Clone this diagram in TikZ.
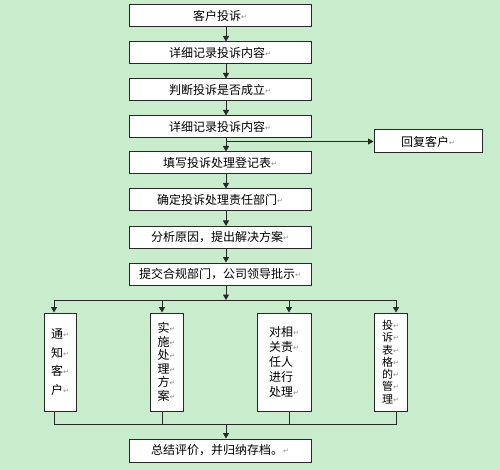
\documentclass[tikz,border=0pt]{standalone}
\usepackage{fontspec}
\usetikzlibrary{arrows.meta}
\newfontfamily\cjk{Noto Sans CJK SC}
\newfontfamily\symf{DejaVu Sans}
\newcommand\retm{\raisebox{1pt}{\symf\fontsize{7}{7}\selectfont\textcolor{black!45}{↵}}}
\definecolor{bgc}{RGB}{200,236,204}
\definecolor{lnc}{RGB}{40,40,40}
\begin{document}
\begin{tikzpicture}[x=1pt,y=-1pt,
  box/.style={draw=lnc, line width=1pt, fill=white, inner sep=0pt, font=\cjk\fontsize{12}{14}\selectfont},
  hbox/.style={box, minimum width=182pt, minimum height=22pt},
  arr/.style={-{Triangle[length=5.5pt,width=6pt]}, line width=0.8pt, draw=lnc},
  ln/.style={line width=0.8pt, draw=lnc}]
\useasboundingbox (0,0) rectangle (500,470);
\fill[bgc] (0,0) rectangle (500,470);
% main column
\node[hbox] (b1) at (220,16) {客户投诉\retm};
\node[hbox] (b2) at (220,53) {详细记录投诉内容\retm};
\node[hbox] (b3) at (220,90) {判断投诉是否成立\retm};
\node[hbox] (b4) at (220,127) {详细记录投诉内容\retm};
\node[hbox] (b5) at (220,163) {填写投诉处理登记表\retm};
\node[hbox] (b6) at (220,200) {确定投诉处理责任部门\retm};
\node[hbox] (b7) at (220,237.5) {分析原因，提出解决方案\retm};
\node[hbox] (b8) at (220,274) {提交合规部门，公司领导批示\retm};
\node[box, minimum width=108pt, minimum height=23pt] (r) at (428,141.5) {回复客户\retm};
\node[hbox, minimum height=23pt] (b9) at (220,450.5) {总结评价，并归纳存档。\retm};
% vertical boxes
\node[box, minimum width=32pt, minimum height=98pt, align=center, font=\cjk\fontsize{12}{18.5}\selectfont] (va) at (60,362) {通\retm\\知\retm\\客\retm\\户\retm};
\node[box, minimum width=33pt, minimum height=98pt, align=center, font=\cjk\fontsize{12}{13.5}\selectfont] (vb) at (166.5,362) {实\retm\\施\retm\\处\retm\\理\retm\\方\retm\\案\retm};
\node[box, minimum width=54pt, minimum height=98pt, align=left, font=\cjk\fontsize{12}{15}\selectfont] (vc) at (284,362) {对相\retm\\关责\retm\\任人\\进行\\处理\retm};
\node[box, minimum width=33pt, minimum height=98pt, align=center, font=\cjk\fontsize{11}{12.3}\selectfont] (vd) at (390.5,362) {投\retm\\诉\retm\\表\retm\\格\retm\\的\retm\\管\retm\\理\retm};
% connectors
\coordinate (sp) at (226,0);
\draw[arr] (b1.south -| sp) -- (b2.north -| sp);
\draw[arr] (b2.south -| sp) -- (b3.north -| sp);
\draw[arr] (b3.south -| sp) -- (b4.north -| sp);
\draw[arr] (b4.south -| sp) -- (b5.north -| sp);
\draw[arr] (b5.south -| sp) -- (b6.north -| sp);
\draw[arr] (b6.south -| sp) -- (b7.north -| sp);
\draw[arr] (b7.south -| sp) -- (b8.north -| sp);
\draw[arr] (sp |- r.west) -- (r.west);
\coordinate (bt) at (226,300);
\coordinate (tl) at (54,300);
\coordinate (tr) at (396,300);
\coordinate (xa) at (54,0);
\coordinate (xb) at (162,0);
\coordinate (xc) at (289,0);
\coordinate (xd) at (396,0);
\draw[ln] (tl) -- (tr);
\draw[arr] (b8.south -| sp) -- (bt);
\draw[arr] (tl) -- (va.north -| xa);
\draw[arr] (bt -| xb) -- (vb.north -| xb);
\draw[arr] (bt -| xc) -- (vc.north -| xc);
\draw[arr] (tr) -- (vd.north -| xd);
\coordinate (bl) at (54,424);
\coordinate (br) at (396,424);
\coordinate (bm) at (226,424);
\draw[ln] (va.south -| xa) -- (bl) -- (br) -- (vd.south -| xd);
\draw[ln] (vb.south -| xb) -- (bl -| xb);
\draw[ln] (vc.south -| xc) -- (bl -| xc);
\draw[arr] (bm) -- (b9.north -| sp);
\end{tikzpicture}
\end{document}
